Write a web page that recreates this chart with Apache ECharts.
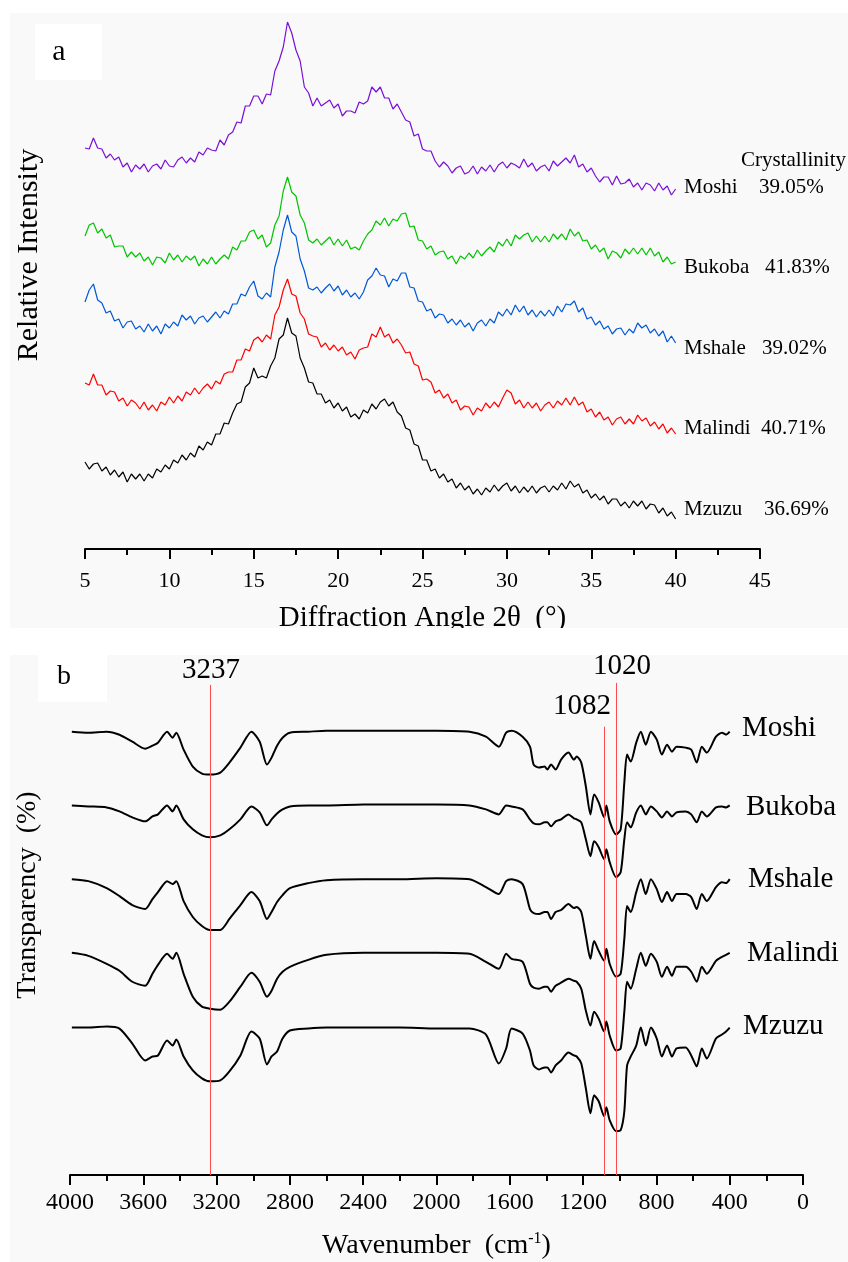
<!DOCTYPE html>
<html>
<head>
<meta charset="utf-8">
<style>
html,body{margin:0;padding:0;background:#fff;}
#chart{width:848px;height:1262px;}
</style>
</head>
<body>
<div id="chart"></div>
<script src="https://cdn.jsdelivr.net/npm/echarts@6/dist/echarts.min.js"></script>
<script>
// ---- panel a : XRD, 2theta 5..40 deg, step 0.25 (relative intensity, stacked) ----
var samples = ['Moshi', 'Bukoba', 'Mshale', 'Malindi', 'Mzuzu'];
var crystallinity = ['39.05%', '41.83%', '39.02%', '40.71%', '36.69%'];
var xrdColors = ['#7a0fd8', '#00c400', '#0058d6', '#ff0000', '#000000'];
var xrdStart = 5, xrdStep = 0.25;

var xrdMoshi = [401,400,411,401,400,391,395,389,392,382,386,377,
  384,380,385,377,383,385,380,389,383,382,389,392,
  386,391,387,397,394,401,399,398,409,404,414,417,
  427,426,443,443,453,453,445,455,454,478,488,502,
  527,516,499,488,462,456,443,451,443,446,449,441,
  445,433,438,438,436,447,445,448,462,457,462,451,
  451,440,445,437,429,427,413,415,400,398,398,388,
  382,387,383,376,381,383,375,377,383,375,382,378,
  384,377,384,387,381,386,384,381,390,382,386,378,
  382,384,378,388,383,387,391,386,394,382,385,377,
  381,373,367,372,372,364,373,365,366,370,362,366,
  359,366,364,358,366,359,363,354,360];
var xrdBukoba = [313,324,326,316,320,311,314,302,303,303,292,297,
  292,296,288,292,284,292,291,286,296,289,294,287,
  293,289,293,283,290,285,292,285,290,294,290,302,
  299,308,308,317,319,310,314,302,306,324,333,358,
  372,357,353,334,326,309,306,310,304,308,312,304,
  310,303,309,300,302,299,308,315,319,328,324,331,
  323,330,328,335,336,322,323,309,308,300,303,294,
  297,298,290,293,285,293,290,296,291,299,293,298,
  302,297,307,303,310,303,314,310,314,316,307,313,
  307,313,307,315,310,315,309,320,313,317,308,309,
  300,304,297,301,290,298,296,291,300,295,301,295,
  301,294,301,293,297,287,292,285,287];
var xrdMshale = [247,259,265,249,246,236,238,228,230,221,227,228,
  220,223,217,225,218,223,215,225,221,227,223,234,
  229,233,225,231,233,227,232,237,231,238,235,245,
  245,255,253,262,268,253,250,256,252,282,297,319,
  334,317,313,290,278,261,259,262,256,261,265,258,
  263,254,259,252,256,250,257,269,273,281,274,273,
  262,270,268,276,276,262,261,248,247,238,240,231,
  235,234,226,230,224,229,222,226,218,226,229,223,
  230,226,237,233,240,234,244,237,243,234,239,232,
  238,233,239,233,243,237,245,244,248,237,241,230,
  232,224,228,220,223,215,220,221,214,220,216,226,
  221,224,216,220,213,218,207,213,206];
var xrdMalindi = [166,164,175,164,164,154,158,157,148,151,143,149,
  146,140,147,139,144,138,147,144,152,146,153,148,
  157,154,161,155,161,165,160,168,165,175,177,177,
  189,189,200,198,209,212,207,214,210,234,242,259,
  270,255,253,236,230,215,213,212,202,206,199,204,
  198,202,194,197,190,199,201,202,215,212,222,212,
  215,206,210,204,196,197,185,183,169,170,167,156,
  159,151,155,146,149,139,143,142,134,141,138,146,
  141,147,142,151,159,156,145,149,141,147,141,146,
  138,144,147,141,148,144,151,144,152,144,147,137,
  140,132,137,129,132,124,130,132,125,130,125,134,
  128,131,123,127,120,125,116,121,115];
var xrdMzuzu = [87,80,85,86,78,82,74,79,72,77,67,75,
  70,75,68,75,71,80,77,84,80,89,86,94,
  89,96,92,103,99,107,104,115,115,126,125,136,
  145,147,162,166,181,171,173,171,183,191,210,214,
  231,216,213,191,181,167,166,155,155,146,149,141,
  146,138,142,132,135,130,139,136,145,140,147,150,
  143,147,137,133,121,119,105,103,89,89,78,80,
  71,75,67,70,61,66,59,63,55,60,54,61,
  57,64,58,63,66,58,63,56,62,57,63,56,
  61,63,57,63,59,66,60,68,62,65,56,59,
  51,55,49,53,45,50,50,43,47,41,48,43,
  48,40,45,44,36,41,33,37,30];
var xrdData = [xrdMoshi, xrdBukoba, xrdMshale, xrdMalindi, xrdMzuzu];

// ---- panel b : FTIR, transparency (stacked, a.u.) ----
var wavenumber = [3990,3900,3800,3730,3660,3590,3550,3520,3470,3440,
  3420,3380,3330,3280,3237,3180,3130,3070,3010,2965,
  2925,2900,2870,2840,2800,2700,2600,2400,2200,2000,
  1820,1730,1660,1620,1590,1530,1490,1470,1440,1410,
  1395,1375,1350,1320,1280,1250,1235,1210,1185,1160,
  1140,1115,1085,1073,1055,1020,995,975,960,940,
  910,885,858,830,798,770,742,715,690,640,
  610,580,552,525,475,442,420,400];
var irMoshi = [445,444,445,442,435,428,431,434,445,439,
  444,427,410,403,402,404,414,429,445,435,
  412,419,431,439,444,445,446,446,446,446,
  445,440,430,444,446,440,430,412,409,410,
  407,412,407,417,424,417,420,414,390,362,
  382,374,359,371,355,342,347,394,422,415,
  434,445,432,445,437,422,432,425,430,429,
  427,414,430,424,440,444,442,445];
var irBukoba = [371,370,369,365,359,355,360,362,371,365,
  371,357,347,341,339,341,347,357,370,364,
  351,357,363,367,370,371,371,372,372,372,
  371,367,362,371,370,367,357,353,352,354,
  354,350,355,357,362,358,357,354,337,320,
  335,329,317,327,314,299,304,337,354,349,
  364,371,362,370,365,359,365,360,364,365,
  362,354,365,360,369,370,369,371];
var irMshale = [297,295,288,280,271,267,277,284,295,292,
  295,275,259,250,246,246,257,271,284,275,
  257,264,274,281,288,293,296,297,297,298,
  297,289,282,295,297,292,267,263,262,264,
  264,257,264,266,272,268,269,264,240,217,
  235,225,215,227,212,199,202,237,270,264,
  284,297,282,297,287,274,284,275,282,282,
  279,267,282,275,289,294,293,297];
var irMalindi = [223,220,212,205,194,190,202,211,222,217,
  223,202,179,169,167,166,174,189,203,194,
  179,185,197,204,209,216,221,223,223,223,
  222,214,207,222,217,214,192,188,187,189,
  189,184,190,193,197,195,194,187,165,150,
  164,157,144,154,140,125,127,164,194,187,
  207,223,210,222,214,199,209,200,209,209,
  204,194,209,202,215,219,221,223];
var irMzuzu = [148,148,149,147,132,115,119,120,135,130,
  136,119,105,97,94,95,104,120,144,137,
  111,119,124,137,145,147,148,148,148,147,
  147,141,112,127,147,142,125,110,106,108,
  108,103,110,115,123,120,119,112,87,62,
  80,74,59,68,55,44,45,64,110,119,
  130,148,130,148,137,119,130,119,127,128,
  120,109,127,117,137,141,144,148];
var irData = [irMoshi, irBukoba, irMshale, irMalindi, irMzuzu];

var peakWavenumbers = [3237, 1082, 1020];
var peakLineTops = [492, 450, 494];

var xTicksA = { min: 5, max: 45, interval: 5 };
var xTicksB = { min: 0, max: 4000, interval: 400 };

var serif = '"Liberation Serif", "Times New Roman", serif';
var chart = echarts.init(document.getElementById('chart'));

function pairs(xs, ys) {
  return ys.map(function (v, i) { return [xs[i], v]; });
}

var series = [];
xrdData.forEach(function (arr, k) {
  var xs = arr.map(function (_, i) { return xrdStart + i * xrdStep; });
  series.push({
    name: samples[k] + ' XRD', type: 'line', xAxisIndex: 0, yAxisIndex: 0,
    data: pairs(xs, arr), showSymbol: false, symbol: 'none',
    lineStyle: { color: xrdColors[k], width: 1.2 }, z: 10 - k
  });
});
irData.forEach(function (arr, k) {
  var s = {
    name: samples[k] + ' FTIR', type: 'line', xAxisIndex: 1, yAxisIndex: 1,
    data: pairs(wavenumber, arr), showSymbol: false, symbol: 'none', smooth: 0.25,
    lineStyle: { color: '#000', width: 2 }
  };
  if (k === 0) {
    s.markLine = {
      silent: true, symbol: 'none', label: { show: false },
      lineStyle: { color: '#ff4b4b', width: 1, type: 'solid' },
      data: peakWavenumbers.map(function (w, i) {
        return [{ coord: [w, peakLineTops[i]] }, { coord: [w, 0] }];
      })
    };
  }
  series.push(s);
});

function txt(x, y, text, size, opts) {
  opts = opts || {};
  return {
    type: 'text', x: x, y: y, rotation: opts.rotation || 0, z: 50,
    style: {
      text: text, font: size + 'px ' + serif, fill: '#000',
      textAlign: opts.align || 'left', textVerticalAlign: 'middle'
    }
  };
}

var graphics = [
  { type: 'rect', shape: { x: 10, y: 13, width: 838, height: 615 }, style: { fill: '#f9f9f9' }, z: -5 },
  { type: 'rect', shape: { x: 10, y: 655, width: 838, height: 607 }, style: { fill: '#f9f9f9' }, z: -5 },
  { type: 'rect', shape: { x: 35, y: 24, width: 67, height: 56 }, style: { fill: '#ffffff' }, z: -4 },
  { type: 'rect', shape: { x: 38, y: 655, width: 69, height: 47 }, style: { fill: '#ffffff' }, z: -4 },
  { type: 'rect', shape: { x: 0, y: 628, width: 848, height: 27 }, style: { fill: '#ffffff' }, z: 100 },
  txt(59, 52, 'a', 30, { align: 'center' }),
  txt(64, 677, 'b', 28, { align: 'center' }),
  txt(29, 255, 'Relative Intensity', 30, { align: 'center', rotation: Math.PI / 2 }),
  txt(28, 895, 'Transparency  (%)', 28, { align: 'center', rotation: Math.PI / 2 }),
  txt(741, 160, 'Crystallinity', 21)
];

var xrdLabelY = [187, 267, 348, 428, 509];
var xrdPctX = [759, 765, 762, 761, 764];
var irLabelX = [742, 746, 748, 747, 743];
var irLabelY = [728, 807, 879, 953, 1026];
samples.forEach(function (n, k) {
  graphics.push(txt(684, xrdLabelY[k], n, 21));
  graphics.push(txt(xrdPctX[k], xrdLabelY[k], crystallinity[k], 21));
  graphics.push(txt(irLabelX[k], irLabelY[k], n, 29));
});
var peakLabelPos = [[211, 670], [582, 706], [622, 666]];
peakWavenumbers.forEach(function (w, i) {
  graphics.push(txt(peakLabelPos[i][0], peakLabelPos[i][1], String(w), 29, { align: 'center' }));
});

function plain(v) { return String(v); }

function xAxisBase(extra) {
  var base = {
    type: 'value',
    axisLine: { show: true, onZero: false, lineStyle: { color: '#000', width: 2 } },
    axisTick: { show: true, length: 10, lineStyle: { color: '#000', width: 2 } },
    minorTick: { show: true, splitNumber: 2, length: 6, lineStyle: { color: '#000', width: 2 } },
    splitLine: { show: false },
    minorSplitLine: { show: false },
    nameLocation: 'middle'
  };
  return Object.assign(base, extra);
}

chart.setOption({
  animation: false,
  backgroundColor: '#ffffff',
  grid: [
    { left: 85, right: 88, top: 14, bottom: 713 },
    { left: 70, right: 45, top: 655, bottom: 85 }
  ],
  xAxis: [
    xAxisBase({
      gridIndex: 0, min: xTicksA.min, max: xTicksA.max, interval: xTicksA.interval,
      axisLabel: { color: '#000', fontFamily: serif, fontSize: 22, margin: 21, formatter: plain },
      name: 'Diffraction Angle 2θ  (°)', nameGap: 55,
      nameTextStyle: { color: '#000', fontFamily: serif, fontSize: 29 }
    }),
    xAxisBase({
      gridIndex: 1, min: xTicksB.min, max: xTicksB.max, interval: xTicksB.interval, inverse: true,
      axisLabel: { color: '#000', fontFamily: serif, fontSize: 24, margin: 16, formatter: plain },
      name: 'Wavenumber  (cm{sup|-1})', nameGap: 56,
      nameTextStyle: {
        color: '#000', fontFamily: serif, fontSize: 28, lineHeight: 30,
        rich: { sup: { fontFamily: serif, fontSize: 16, color: '#000', padding: [0, 0, 14, 0] } }
      }
    })
  ],
  yAxis: [
    { gridIndex: 0, type: 'value', min: 0, max: 535, show: false },
    { gridIndex: 1, type: 'value', min: 0, max: 522, show: false }
  ],
  graphic: graphics,
  series: series
});
</script>
</body>
</html>
